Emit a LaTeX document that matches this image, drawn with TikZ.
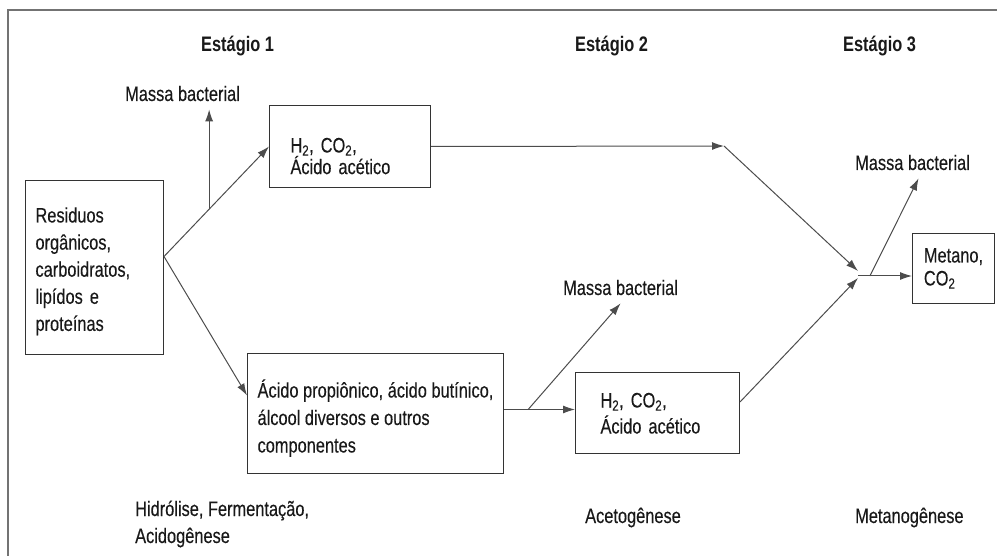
\documentclass[tikz,border=0pt]{standalone}
\usepackage{fontspec}
\setmainfont[FakeStretch=0.78,UprightFeatures={FakeBold=0.25}]{Liberation Sans}
\usepackage{tikz}
\usetikzlibrary{positioning,arrows.meta,calc}
\newcommand{\letra}[1]{\fontsize{21}{#1}\selectfont\lineskiplimit=-50pt}
\tikzset{caixa/.style={draw=black!80,line width=1pt,anchor=north west,align=left,inner ysep=0pt,text=black!90}}
\tikzset{rotulo/.style={anchor=base west,inner xsep=0pt,inner ysep=8pt,align=left,text=black!90,font=\letra{27}}}
\tikzset{titulo/.style={rotulo,font=\letra{27}\bfseries}}
\tikzset{seta/.style={draw=black!70,line width=1pt,-{Latex[length=12pt,width=8pt]}}}
\tikzset{moldura/.style={draw=black!55,line width=2pt}}

\begin{document}
\begin{tikzpicture}[x=1pt,y=-1pt]
  \useasboundingbox (0,0) rectangle (997,556);
  \draw[moldura] (997,10) -- (8,10) -- (8,556);
        \foreach \x/\n in {201/1,575/2,843/3}
          \node[titulo] (e\n) at (\x,52) {Estágio \n};
  % caixas
  \node[caixa,font=\letra{27.1},inner xsep=10pt,text width=118pt,text height=42pt,text depth=132pt] (R) at (25,180)
    {Residuos\\orgânicos,\\carboidratos,\\lipídos e\\proteínas};
  \node[caixa,font=\letra{21.6},inner xsep=21pt,text width=119pt,text height=47pt,text depth=35pt] (A) at (269,105)
    {H\textsubscript{2}, CO\textsubscript{2},\\Ácido acético};
  \node[caixa,font=\letra{27.5},minimum width=256pt,text height=99pt,text depth=21pt] (P) at (247,353)
    {Ácido propiônico, ácido butínico,\\álcool diversos e outros\\componentes};
  \node[caixa,font=\letra{26},inner xsep=25pt,text width=114pt,text height=35pt,text depth=46pt] (B) at (575,372)
    {H\textsubscript{2}, CO\textsubscript{2},\\Ácido acético};
  \node[caixa,font=\letra{23},minimum width=82pt,text height=52pt,text depth=18pt] (M) at (912,233)
    {Metano,\\CO\textsubscript{2}};
  % rotulos
  \node[rotulo] (mb1) at (125,101) {Massa bacterial};
  \node[rotulo] (mb2) at (563,295) {Massa bacterial};
  \node[rotulo] (mb3) at (855,170) {Massa bacterial};
  \node[rotulo] (f1) at (135,543) {Hidrólise, Fermentação,\\Acidogênese};
  \node[rotulo] (f2) at (585,523) {Acetogênese};
  \node[rotulo] (f3) at (855,523) {Metanogênese};
  % setas
  \coordinate (r) at ([yshift=11pt]R.east);
  \coordinate (p1) at ([yshift=4pt]P.east);
  \coordinate (k) at (724,146);
  \coordinate (j) at (858,276);
  \draw[seta] (r) -- (A.west) coordinate[pos=0.43] (b1);
  \draw[seta] (b1) -- (b1 |- mb1.south);
  \draw[seta] (r) -- ([yshift=18pt]P.west);
  \draw[seta] (A.east) -- (k);
  \draw[seta] (k) -- ([yshift=5pt]j);
  \draw[seta] (p1) -- (p1 -| B.west) coordinate[pos=0.34] (b2);
  \draw[seta] (b2) -- (mb2.south);
  \draw[seta] ([yshift=11pt]B.east) -- ([yshift=-2pt]j);
  \draw[seta] (j) -- (j -| M.west) coordinate[pos=0.22] (b3);
  \draw[seta] (b3) -- ([xshift=6pt]mb3.south);
\end{tikzpicture}
\end{document}
